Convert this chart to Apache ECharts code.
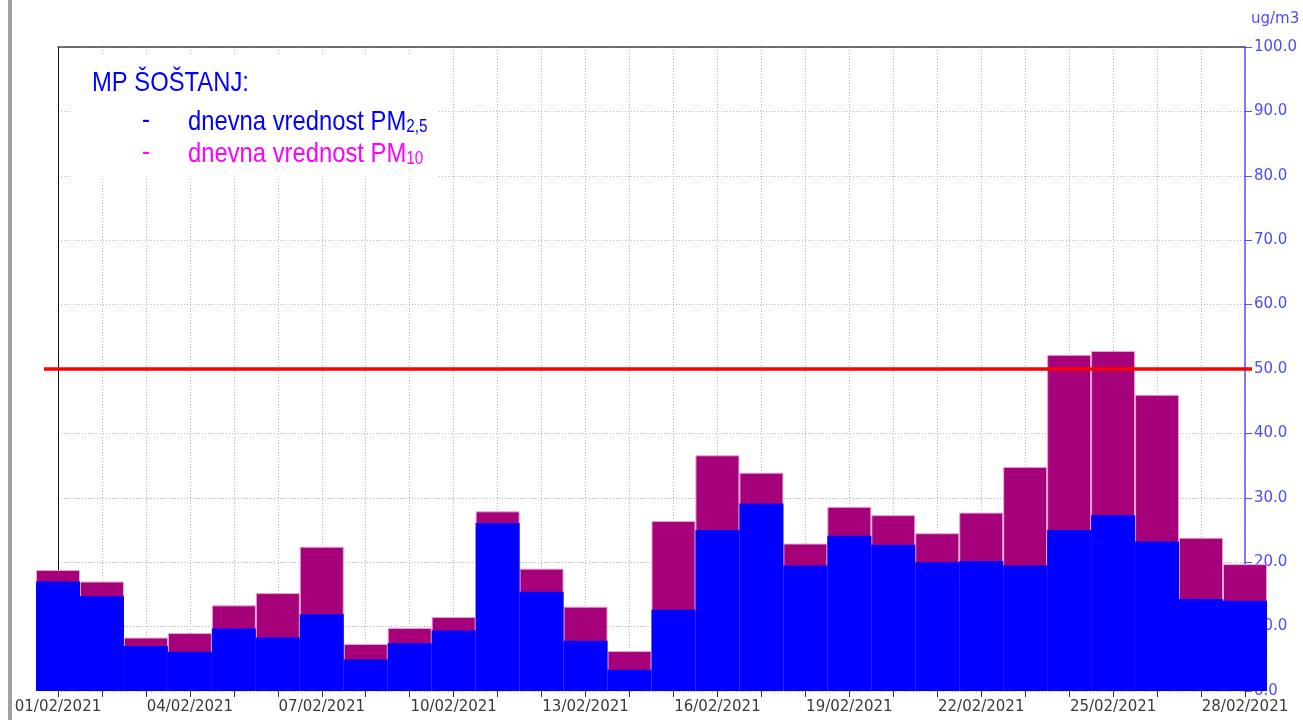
<!DOCTYPE html>
<html>
<head>
<meta charset="utf-8">
<script src="https://cdn.jsdelivr.net/npm/echarts@6/dist/echarts.min.js"></script>
<style>
  html, body { margin: 0; padding: 0; background: #fff; }
  #main { width: 1303px; height: 720px; }
</style>
</head>
<body>
<div id="main"></div>
<script>
// dnevi v februarju
var days = ['01/02/2021', '02/02/2021', '03/02/2021', '04/02/2021', '05/02/2021', '06/02/2021', '07/02/2021',
  '08/02/2021', '09/02/2021', '10/02/2021', '11/02/2021', '12/02/2021', '13/02/2021', '14/02/2021',
  '15/02/2021', '16/02/2021', '17/02/2021', '18/02/2021', '19/02/2021', '20/02/2021', '21/02/2021',
  '22/02/2021', '23/02/2021', '24/02/2021', '25/02/2021', '26/02/2021', '27/02/2021', '28/02/2021'];
// dnevne vrednosti PM10 in PM2,5 (ug/m3)
var pm10 = [18.8, 17.0, 8.3, 9.0, 13.3, 15.2, 22.4, 7.3, 9.8, 11.5, 27.9, 19.0, 13.1, 6.2,
  26.4, 36.6, 33.9, 22.9, 28.6, 27.3, 24.5, 27.7, 34.8, 52.2, 52.8, 46.0, 23.8, 19.7];
var pm25 = [17.0, 14.7, 7.0, 6.1, 9.7, 8.3, 11.9, 4.9, 7.4, 9.4, 26.1, 15.4, 7.8, 3.3,
  12.6, 25.0, 29.1, 19.5, 24.1, 22.7, 20.0, 20.2, 19.5, 25.0, 27.3, 23.2, 14.3, 14.0];
// mejna vrednost
var limit = 50;

var chart = echarts.init(document.getElementById('main'));
var dots = { color: '#b8b8b8', type: [1, 2], width: 1 };
var legendFont = 'Liberation Sans, Arial, sans-serif';

chart.setOption({
  backgroundColor: '#fff',
  animation: false,
  grid: { left: 58, right: 58, top: 47, bottom: 29 },
  xAxis: [
    {
      type: 'category',
      data: days,
      boundaryGap: false,
      axisLine: { show: false },
      axisTick: { show: true, interval: 0, length: 6, lineStyle: { color: '#333' } },
      axisLabel: { interval: 2, fontSize: 15, fontFamily: 'DejaVu Sans', color: '#3a3a3a', margin: 9 },
      splitLine: { show: true, interval: 0, lineStyle: dots }
    },
    {
      type: 'category',
      position: 'top',
      data: days,
      boundaryGap: false,
      axisLine: { show: true, onZero: false, lineStyle: { color: '#444', width: 1.5 } },
      axisTick: { show: false },
      axisLabel: { show: false },
      splitLine: { show: false }
    }
  ],
  yAxis: [
    {
      type: 'value',
      position: 'right',
      min: 0,
      max: 100,
      interval: 10,
      name: 'ug/m3',
      nameGap: 20,
      nameTextStyle: { color: '#4b4bff', fontSize: 15, fontFamily: 'DejaVu Sans', align: 'left', padding: [0, 0, 0, 6] },
      axisLine: { show: true, lineStyle: { color: '#5252ff', width: 1.5 } },
      axisTick: { show: true, length: 7, lineStyle: { color: '#5252ff' } },
      axisLabel: {
        color: '#4b4bff', fontSize: 15, fontFamily: 'DejaVu Sans', margin: 9,
        formatter: function (v) { return v.toFixed(1); }
      },
      splitLine: { show: true, lineStyle: dots }
    },
    {
      type: 'value',
      position: 'left',
      min: 0,
      max: 100,
      axisLine: { show: true, onZero: false, lineStyle: { color: '#111', width: 1 } },
      axisTick: { show: false },
      axisLabel: { show: false },
      splitLine: { show: false }
    }
  ],
  series: [
    {
      name: 'PM10',
      type: 'bar',
      data: pm10,
      barWidth: 44,
      barGap: '-100%',
      clip: false,
      itemStyle: { color: '#a6007a', borderColor: '#e2a6d4', borderWidth: 1 }
    },
    {
      name: 'PM2,5',
      type: 'bar',
      data: pm25,
      barWidth: 44,
      barGap: '-100%',
      clip: false,
      itemStyle: { color: '#0000ff' }
    }
  ],
  graphic: [
    // siv rob okna na levi
    { type: 'rect', z: 5, shape: { x: 8, y: 0, width: 4, height: 720 }, style: { fill: '#9ba1a8' } },
    // belo ozadje legende
    { type: 'rect', z: 5, shape: { x: 72, y: 56, width: 366, height: 121 }, style: { fill: '#fff' } },
    {
      type: 'text', z: 6, x: 92, y: 83, scaleX: 0.85,
      style: { text: 'MP ŠOŠTANJ:', fill: '#0000ff', font: '28px ' + legendFont, verticalAlign: 'middle' }
    },
    {
      type: 'text', z: 6, x: 142, y: 120, scaleX: 0.85,
      style: { text: '-', fill: '#0000ff', font: '28px ' + legendFont, verticalAlign: 'middle' }
    },
    {
      type: 'text', z: 6, x: 188, y: 120, scaleX: 0.85,
      style: {
        text: '{m|dnevna vrednost PM}{s|2,5}', verticalAlign: 'middle',
        rich: {
          m: { fill: '#0000ff', fontSize: 28, fontFamily: legendFont, lineHeight: 32, verticalAlign: 'bottom' },
          s: { fill: '#0000ff', fontSize: 18, fontFamily: legendFont, lineHeight: 18, verticalAlign: 'bottom' }
        }
      }
    },
    {
      type: 'text', z: 6, x: 142, y: 152, scaleX: 0.85,
      style: { text: '-', fill: '#ff00ff', font: '28px ' + legendFont, verticalAlign: 'middle' }
    },
    {
      type: 'text', z: 6, x: 188, y: 152, scaleX: 0.85,
      style: {
        text: '{m|dnevna vrednost PM}{s|10}', verticalAlign: 'middle',
        rich: {
          m: { fill: '#ff00ff', fontSize: 28, fontFamily: legendFont, lineHeight: 32, verticalAlign: 'bottom' },
          s: { fill: '#ff00ff', fontSize: 18, fontFamily: legendFont, lineHeight: 18, verticalAlign: 'bottom' }
        }
      }
    }
  ]
});

// mejna vrednost 50 ug/m3 - rdeca crta, malo daljsa od mreze kot v originalu
var limitY = chart.convertToPixel({ yAxisIndex: 0 }, limit);
chart.setOption({
  graphic: [{
    id: 'limit', type: 'line', z: 4,
    shape: { x1: 44, y1: limitY, x2: 1252, y2: limitY },
    style: { stroke: '#ff0000', lineWidth: 3.5 }
  }]
});
</script>
</body>
</html>
